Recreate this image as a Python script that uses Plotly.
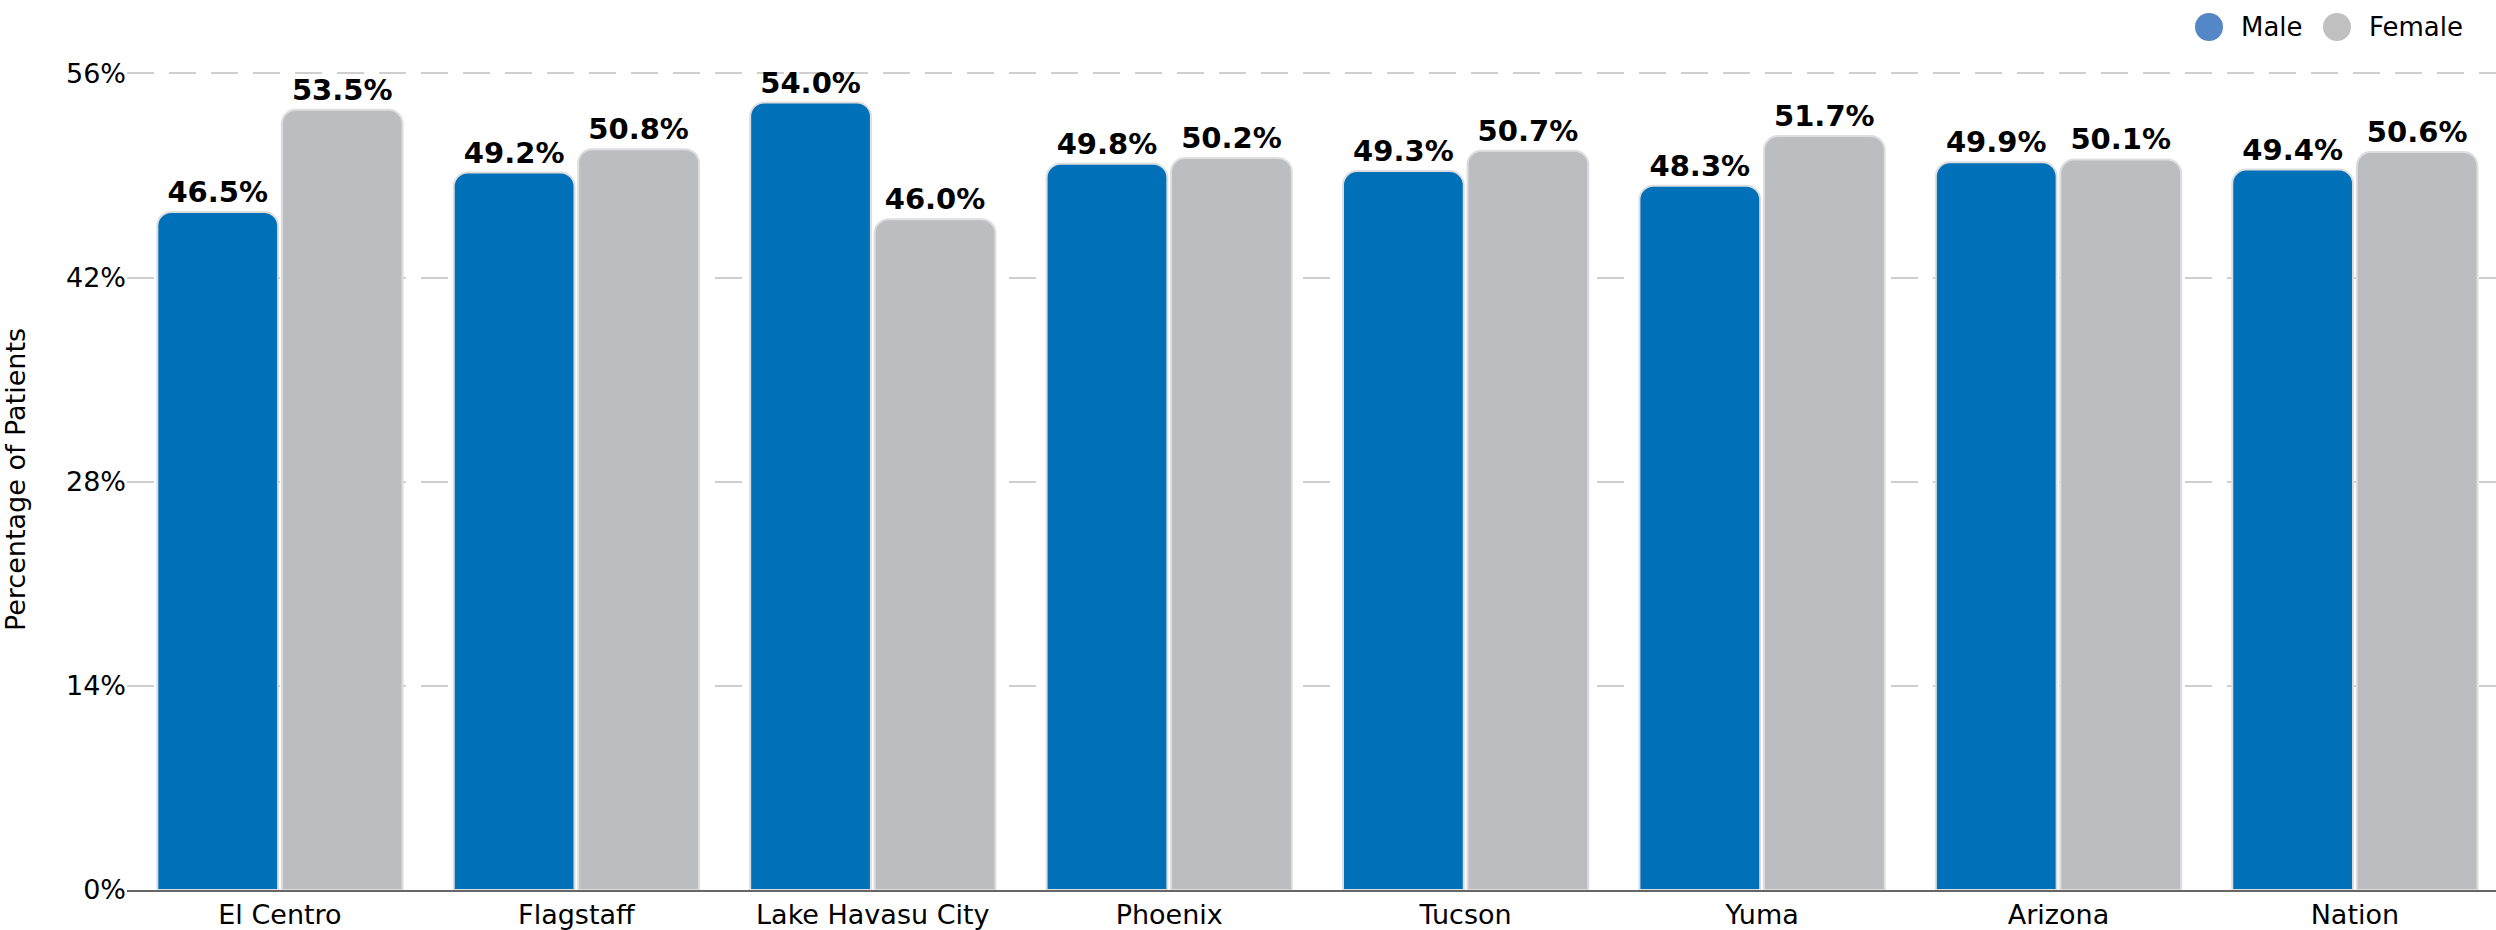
import plotly.graph_objects as go

# Patient share by sex for each site
sites = ["El Centro", "Flagstaff", "Lake Havasu City", "Phoenix", "Tucson", "Yuma", "Arizona", "Nation"]
male_pct = [46.5, 49.2, 54.0, 49.8, 49.3, 48.3, 49.9, 49.4]
female_pct = [53.5, 50.8, 46.0, 50.2, 50.7, 51.7, 50.1, 50.6]
y_ticks = [0, 14, 28, 42, 56]

FONT = "DejaVu Sans"
MALE_BAR = "#0070b9"
FEMALE_BAR = "#bcbdc0"
MALE_KEY = "#5487c6"
FEMALE_KEY = "#c0c0c0"

fig = go.Figure()
for name, vals, color in [("Male", male_pct, MALE_BAR), ("Female", female_pct, FEMALE_BAR)]:
    fig.add_trace(go.Bar(
        x=sites, y=vals, name=name,
        marker=dict(color=color, line=dict(color="#dedede", width=2)),
        text=[f"{v:.1f}%" for v in vals],
        textposition="outside",
        textfont=dict(family=FONT, size=29, color="#000000", weight="bold"),
        cliponaxis=False,
        showlegend=False,
        hoverinfo="x+y",
    ))

# Legend keys drawn as large circles at the top right
legend_items = [("Male", MALE_KEY, 2209), ("Female", FEMALE_KEY, 2337)]
plot_left, plot_right = 127, 2496
top_px, bottom_px = 69, 890
key_y = 1 + (top_px - 27) / (bottom_px - top_px)
shapes, annots = [], []
for label, color, cx in legend_items:
    px = (cx - plot_left) / (plot_right - plot_left)
    shapes.append(dict(
        type="circle", xref="paper", yref="paper",
        xsizemode="pixel", ysizemode="pixel",
        xanchor=px, yanchor=key_y,
        x0=-14, x1=14, y0=-14, y1=14,
        fillcolor=color, line=dict(width=0),
    ))
    annots.append(dict(
        text=label, xref="paper", yref="paper",
        x=px, y=key_y, xanchor="left", yanchor="middle",
        xshift=30, showarrow=False,
        font=dict(family=FONT, size=26, color="#000000"),
    ))

fig.update_layout(
    width=2496, height=930,
    margin=dict(l=plot_left, r=0, t=top_px, b=930 - bottom_px),
    paper_bgcolor="white", plot_bgcolor="white",
    barmode="group", bargap=0.16, bargroupgap=0.03,
    barcornerradius=14,
    font=dict(family=FONT, size=27, color="#000000"),
    shapes=shapes, annotations=annots,
    xaxis=dict(
        range=[-0.516, 7.476],
        showgrid=False, showline=True, linecolor="#666666", linewidth=2,
        ticks="", tickfont=dict(family=FONT, size=27, color="#000000"),
        fixedrange=True,
    ),
    yaxis=dict(
        range=[0, 56.3], tickvals=y_ticks, ticktext=[f"{t}%" for t in y_ticks],
        showgrid=True, gridcolor="#cfcfcf", gridwidth=2, griddash="27px,15px",
        zeroline=False, showline=False, ticks="",
        tickfont=dict(family=FONT, size=27, color="#000000"),
        title=dict(text="Percentage of Patients", font=dict(family=FONT, size=27, color="#000000"), standoff=32),
        fixedrange=True,
    ),
)

fig.write_html("out.html")
